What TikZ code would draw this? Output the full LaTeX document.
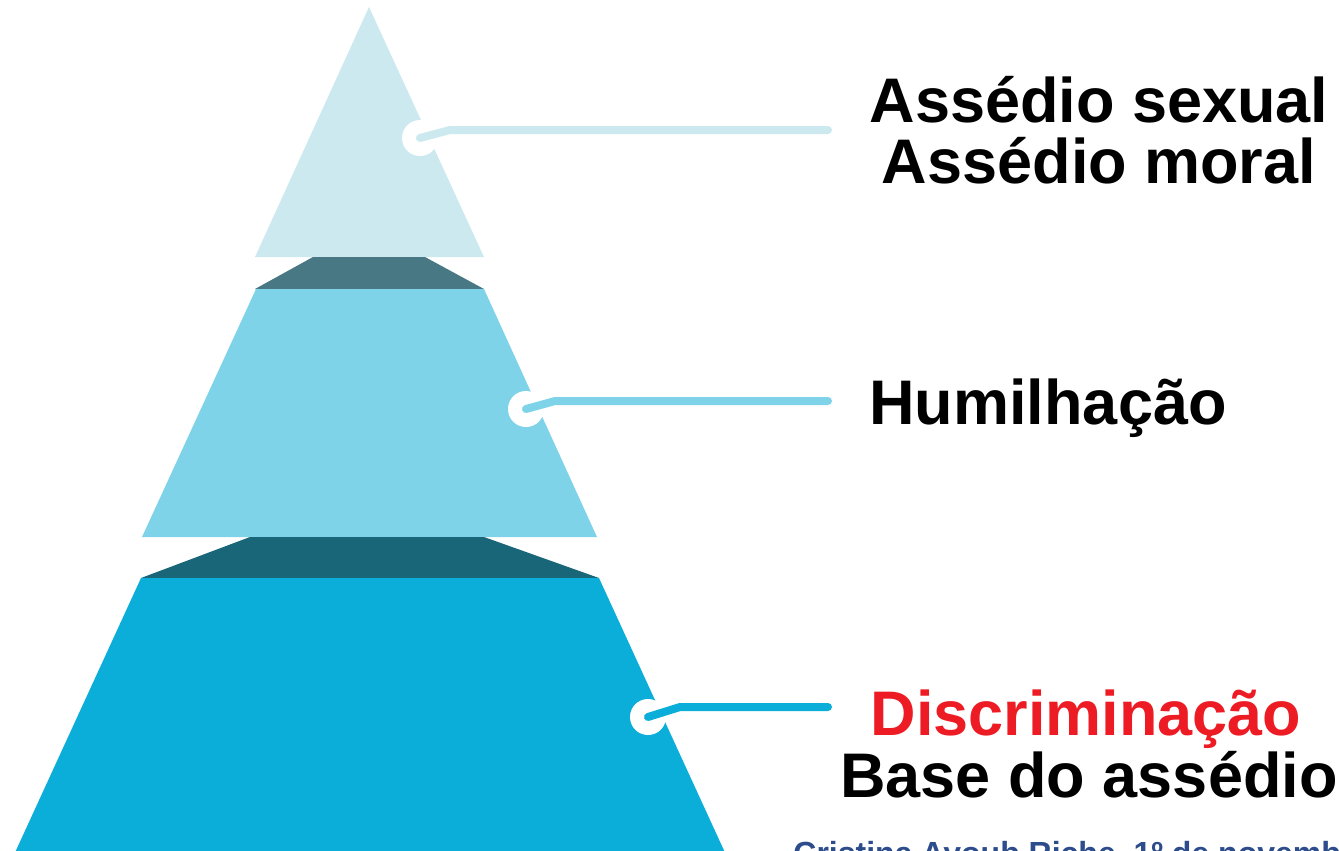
\documentclass[tikz,border=0pt]{standalone}
\usepackage{fontspec}
\setmainfont{Liberation Sans}
\usepackage{tikz}
\usetikzlibrary{calc}
\definecolor{tiertop}{RGB}{204,233,240}
\definecolor{tiermid}{RGB}{127,211,233}
\definecolor{tierlow}{RGB}{11,174,217}
\definecolor{bandone}{RGB}{72,120,131}
\definecolor{bandtwo}{RGB}{26,102,121}
\definecolor{alarm}{RGB}{237,28,36}
\definecolor{credit}{RGB}{44,76,140}
\tikzset{
  tier label/.style={font=\fontsize{31.5}{31}\selectfont\bfseries, anchor=base, inner sep=0pt},
  dot/.style={circle, fill=white, minimum size=18pt, inner sep=0pt},
  leader/.style={line width=4pt, line cap=round, line join=round}
}

\begin{document}
\begin{tikzpicture}[x=0.5pt, y=-0.5pt]
    \clip (0,0) rectangle (1339,851);
    % pyramid slices, top to bottom
    \fill[tiertop] (369,7) -- (484,257) -- (255,257) -- cycle;
    \fill[bandone] (313,257) -- (425,257) -- (484,289) -- (255,289) -- cycle;
    \fill[tiermid] (256,289) -- (484,289) -- (597,537) -- (142,537) -- cycle;
    \fill[bandtwo] (250,537) -- (484,537) -- (599,578) -- (141,578) -- cycle;
    \fill[tierlow] (141,578) -- (599,578) -- (733,870) -- (7,870) -- cycle;
    % white dots on the right edge
    \node[dot] (dottop) at (420,138) {};
    \node[dot] (dotmid) at (526,409) {};
    \node[dot] (dotlow) at (648,717) {};
    \coordinate (kinktop) at (450,130);
    \coordinate (endtop) at (828,130);
    \coordinate (kinkmid) at (555,401);
    \coordinate (endmid) at (828,401);
    \coordinate (kinklow) at (680,707);
    \coordinate (endlow) at (828,707);
    \draw[leader, tiertop] (dottop.center) -- (kinktop) -- (endtop);
    \draw[leader, tiermid] (dotmid.center) -- (kinkmid) -- (endmid);
    \draw[leader, tierlow] (dotlow.center) -- (kinklow) -- (endlow);
    % labels
    \node[tier label] (sexual) at (1099,122) {Assédio sexual};
    \node[tier label] (moral) at (1099,183) {Assédio moral};
    \node[tier label] (humilhacao) at (1048,424) {Humilhação};
    \node[tier label, text=alarm] (discriminacao) at (1086,735) {Discriminação};
    \node[tier label] (base) at (1089,797) {Base do assédio};
    \node[font=\fontsize{16}{16}\selectfont\bfseries, text=credit, anchor=base west, inner sep=0pt] (author) at (793,864) {Cristina Ayoub Riche, 1º de novembro};
\end{tikzpicture}
\end{document}
